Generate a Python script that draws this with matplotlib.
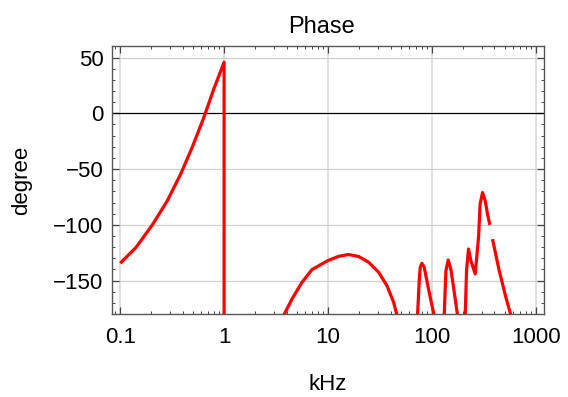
import numpy as np
import matplotlib
matplotlib.use("Agg")
import matplotlib.pyplot as plt
from matplotlib.ticker import LogLocator, MultipleLocator, FixedLocator, NullFormatter

plt.rcParams['font.family'] = ['Liberation Sans', 'DejaVu Sans']

# phase curve, NaN marks a break in the line
freq_khz = [0.1, 0.1415, 0.204, 0.284, 0.382, 0.493, 0.639, 0.796, 1.0, 1.0, np.nan,
            3.75, 4.51, 5.62, 7.02, 10.0, 12.7, 15.8, 19.7, 24.6, 30.7, 36.9, 42.8, 46.1, np.nan,
            72.7, 75.5, 77.2, 80.1, 84.3, 90.7, 97.8, 104.9, np.nan,
            131.3, 136.4, 143.4, 152.3, 163.8, 176.4, np.nan,
            209, 215.4, 225, 237, 261, 281, 291, 307, 326, 343, 361, np.nan,
            383, 444, 515, 575]
phase_deg = [-134.4, -120.4, -100, -78.4, -54.4, -30.5, -3.6, 21.9, 45.8, -181, np.nan,
             -181, -166.4, -151.5, -140.1, -132, -128.2, -126.6, -128.4, -133.5, -142.5, -154.5, -169.5, -181, np.nan,
             -181, -150, -138, -134.5, -138, -153, -168, -181, np.nan,
             -181, -141, -131.5, -140, -160, -181, np.nan,
             -181, -141, -121.7, -132, -144, -111, -81.5, -71, -78.6, -90.5, -100, np.nan,
             -112.8, -141, -165, -181]

x_ticks = [0.1, 1, 10, 100, 1000]
x_labels = ["0.1", "1", "10", "100", "1000"]
y_ticks = [-150, -100, -50, 0, 50]

fig = plt.figure(figsize=(5.68, 3.97), dpi=100)
ax = fig.add_axes([0.197, 0.209, 0.761, 0.674])

ax.plot(freq_khz, phase_deg, color='#ff0000', lw=2.3, solid_capstyle='butt',
        solid_joinstyle='round', zorder=3)
ax.axhline(0, color='black', lw=0.9, zorder=2)

ax.set_xscale('log')
ax.set_xlim(10 ** -1.08, 10 ** 3.08)
ax.set_ylim(-180, 60)

ax.xaxis.set_major_locator(FixedLocator(x_ticks))
ax.set_xticklabels(x_labels)
ax.xaxis.set_minor_locator(LogLocator(base=10, subs=np.arange(2, 10)))
ax.xaxis.set_minor_formatter(NullFormatter())
ax.yaxis.set_major_locator(FixedLocator(y_ticks))
ax.set_yticklabels(["\u2212150", "\u2212100", "\u221250", "0", "50"])
ax.yaxis.set_minor_locator(MultipleLocator(10))

for t in x_ticks:
    ax.axvline(t, color='#dcdcdc', lw=1.3, zorder=1)
for t in y_ticks:
    if t != 0:
        ax.axhline(t, color='#cfcfcf', lw=0.9, zorder=1)

ax.tick_params(which='both', direction='in', top=True, right=True, colors='#444444',
               labelcolor='black', labelsize=16)
ax.tick_params(which='major', length=5, width=0.9)
ax.tick_params(which='minor', length=2.5, width=0.7)
ax.tick_params(axis='x', which='major', pad=9)
ax.tick_params(axis='y', which='major', pad=6)
for s in ax.spines.values():
    s.set_color('#555555')
    s.set_linewidth(1.0)

ax.set_title("Phase", fontsize=17, pad=10, x=0.484)
ax.set_xlabel("kHz", fontsize=16, labelpad=19)
ax.set_ylabel("degree", fontsize=16, labelpad=15)

fig.savefig("out.png", dpi=100)
